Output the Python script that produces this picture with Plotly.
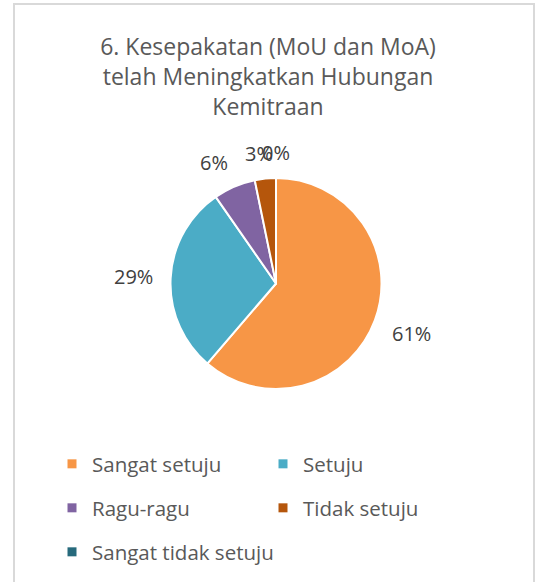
import math

import plotly.graph_objects as go

W, H = 539, 582

TITLE = "6. Kesepakatan (MoU dan MoA)<br>telah Meningkatkan Hubungan<br>Kemitraan"
categories = ["Sangat setuju", "Setuju", "Ragu-ragu", "Tidak setuju", "Sangat tidak setuju"]
counts = [19, 9, 2, 1, 0]
colors = ["#F79646", "#4BACC6", "#8064A2", "#B5560C", "#276A7C"]

FONT = "Open Sans, sans-serif"
TEXT_GREY = "#595959"
LABEL_GREY = "#404040"

# pie geometry in page pixels
CX, CY, R = 276, 283.5, 105.5
LABEL_RADIUS = 123  # where the label box's nearest edge sits


def px_x(x):
    return x / W


def px_y(y):
    return 1 - y / H


def clip(v):
    return max(-1.0, min(1.0, v))


fig = go.Figure(go.Pie(
    labels=categories,
    values=counts,
    marker=dict(colors=colors, line=dict(color="white", width=2)),
    sort=False,
    direction="clockwise",
    rotation=0,
    textinfo="none",
    hoverinfo="label+value+percent",
    showlegend=False,
    domain=dict(x=[px_x(CX - R), px_x(CX + R)], y=[px_y(CY + R), px_y(CY - R)]),
))

# Excel-style "outside end" data labels: the box's nearest edge touches a
# ring just outside the rim, at the slice's mid angle.
total = sum(counts)
start = 0.0
for n in counts:
    share = n / total
    mid = math.radians((start + share / 2) * 360)
    start += share
    text = f"{round(share * 100)}%"
    ux, uy = math.sin(mid), -math.cos(mid)
    hw, hh = 6.7 * len(text), 7.5
    x = CX + LABEL_RADIUS * ux + hw * clip(ux / 0.3)
    y = CY + LABEL_RADIUS * uy + hh * clip(uy / 0.3)
    fig.add_annotation(
        x=px_x(x), y=px_y(y),
        xref="paper", yref="paper", text=text, showarrow=False,
        xanchor="center", yanchor="middle",
        font=dict(family=FONT, size=20, color=LABEL_GREY),
    )

# legend: two entries per row, each row its own legend so the row pitch
# matches the Excel layout
LEGEND_ROWS = [464, 508, 552]
for i, (name, color) in enumerate(zip(categories, colors)):
    fig.add_trace(go.Scatter(
        x=[None], y=[None], mode="markers", name=name,
        marker=dict(symbol="square", size=9, color=color),
        legend="legend" if i < 2 else f"legend{i // 2 + 1}",
        showlegend=True,
    ))

legend_style = dict(
    orientation="h", x=px_x(52), xanchor="left", yanchor="middle",
    entrywidth=166, entrywidthmode="pixels",
    font=dict(family=FONT, size=20.5, color=TEXT_GREY),
    bgcolor="rgba(0,0,0,0)",
)

fig.add_shape(
    type="rect", xref="paper", yref="paper",
    x0=px_x(14), x1=px_x(534), y0=px_y(640), y1=px_y(4),
    line=dict(color="#D9D9D9", width=2),
)

fig.update_layout(
    width=W, height=H,
    margin=dict(l=0, r=0, t=0, b=0),
    paper_bgcolor="white",
    plot_bgcolor="white",
    xaxis=dict(visible=False),
    yaxis=dict(visible=False),
    font=dict(family=FONT, color=TEXT_GREY),
    title=dict(
        text=TITLE, x=px_x(268), xanchor="center", y=px_y(55), yanchor="top",
        font=dict(family=FONT, size=23, color=TEXT_GREY),
    ),
    legend=dict(legend_style, y=px_y(LEGEND_ROWS[0])),
    legend2=dict(legend_style, y=px_y(LEGEND_ROWS[1])),
    legend3=dict(legend_style, y=px_y(LEGEND_ROWS[2]), entrywidth=260),
)

# the page body has a default 8px margin; drop it so the figure sits at 0,0
fig.write_html(
    "out.html",
    config={"displayModeBar": False},
    post_script="document.body.style.margin = '0';",
)
